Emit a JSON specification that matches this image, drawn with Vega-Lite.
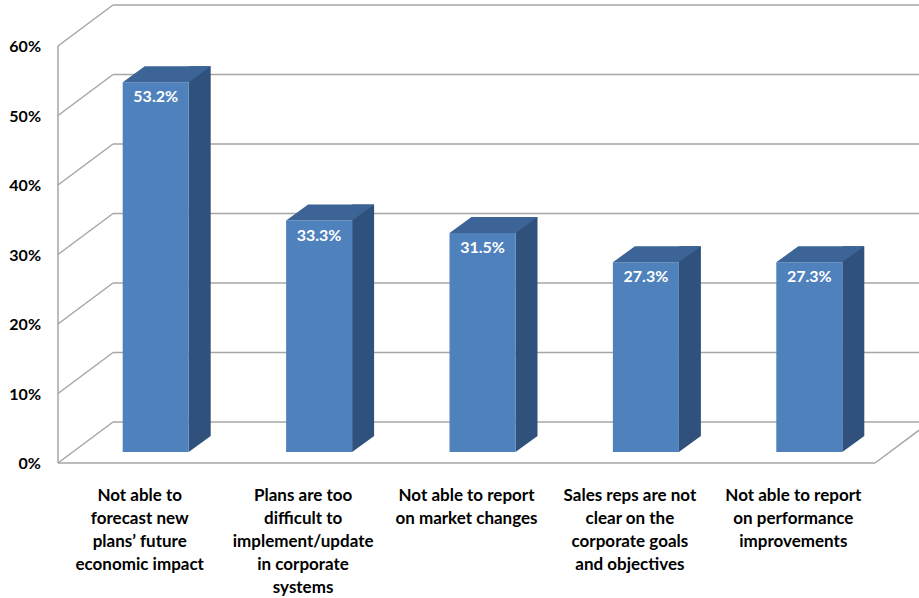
{
  "$schema": "https://vega.github.io/schema/vega-lite/v6.json",
  "width": 817,
  "height": 417,
  "autosize": {"type": "none"},
  "padding": {"left": 74, "top": 35, "right": 28, "bottom": 146},
  "background": "white",
  "config": {"view": {"stroke": null}, "font": "Lato", "axis": {"grid": false, "ticks": false, "domain": false}},
  "datasets": {
    "survey": [
      {"reason": "Not able to|forecast new|plans’ future|economic impact", "share": 0.532},
      {"reason": "Plans are too|difficult to|implement/update|in corporate|systems", "share": 0.333},
      {"reason": "Not able to report|on market changes", "share": 0.315},
      {"reason": "Sales reps are not|clear on the|corporate goals|and objectives", "share": 0.273},
      {"reason": "Not able to report|on performance|improvements", "share": 0.273}
    ],
    "grid": [
      {"level": 0}, {"level": 0.1}, {"level": 0.2}, {"level": 0.3}, {"level": 0.4}, {"level": 0.5}, {"level": 0.6}
    ]
  },
  "resolve": {"scale": {"x": "independent"}},
  "layer": [
    {
      "encoding": {
        "x": {"datum": 0, "type": "quantitative", "scale": {"domain": [0, 5], "nice": false, "zero": false}, "axis": null}
      },
      "layer": [
        {
          "data": {"name": "grid"},
          "mark": {"type": "rule", "stroke": "#a6a6a6", "strokeWidth": 1.5, "xOffset": 39, "x2Offset": 39, "yOffset": -30},
          "encoding": {
            "x2": {"datum": 5},
            "y": {"field": "level", "type": "quantitative", "scale": {"domain": [0, 0.6], "nice": false}, "axis": null}
          }
        },
        {
          "data": {"name": "grid"},
          "mark": {"type": "rule", "stroke": "#a6a6a6", "strokeWidth": 1.5, "xOffset": -16, "x2Offset": 39, "yOffset": 11, "y2Offset": -30},
          "encoding": {
            "x2": {"datum": 0},
            "y": {"field": "level", "type": "quantitative", "scale": {"domain": [0, 0.6], "nice": false}, "axis": null},
            "y2": {"field": "level"}
          }
        },
        {
          "data": {"name": "grid"},
          "mark": {"type": "text", "align": "right", "baseline": "middle", "xOffset": -33, "yOffset": 12, "fontSize": 16, "fontWeight": "bold", "color": "#000000"},
          "encoding": {
            "y": {"field": "level", "type": "quantitative", "scale": {"domain": [0, 0.6], "nice": false}, "axis": null},
            "text": {"field": "level", "type": "quantitative", "format": ".0%"}
          }
        },
        {
          "data": {"values": [{}]},
          "mark": {"type": "rule", "stroke": "#a6a6a6", "strokeWidth": 1.5, "xOffset": -16, "yOffset": 11, "y2Offset": 11},
          "encoding": {
            "y": {"datum": 0, "type": "quantitative", "axis": null},
            "y2": {"datum": 0.6}
          }
        },
        {
          "data": {"values": [{}]},
          "mark": {"type": "rule", "stroke": "#a6a6a6", "strokeWidth": 1.5, "xOffset": -16, "x2Offset": -16, "yOffset": 11},
          "encoding": {
            "x2": {"datum": 5},
            "y": {"datum": 0, "type": "quantitative", "axis": null}
          }
        },
        {
          "data": {"values": [{}]},
          "mark": {"type": "rule", "stroke": "#a6a6a6", "strokeWidth": 1.5, "xOffset": -16, "x2Offset": 39, "yOffset": 11, "y2Offset": -30},
          "encoding": {
            "x": {"datum": 5, "type": "quantitative", "scale": {"domain": [0, 5], "nice": false, "zero": false}, "axis": null},
            "x2": {"datum": 5},
            "y": {"datum": 0, "type": "quantitative", "axis": null},
            "y2": {"datum": 0}
          }
        }
      ]
    },
    {
      "data": {"name": "survey"},
      "encoding": {
        "x": {
          "field": "reason", "type": "nominal", "sort": null,
          "scale": {"paddingInner": 0.596, "paddingOuter": 0.298},
          "axis": {
            "title": null, "labelExpr": "split(datum.label, '|')", "labelAngle": 0, "labelOffset": -16,
            "labelPadding": 35, "labelFontSize": 17, "labelFontWeight": "bold", "labelColor": "#000000",
            "labelLineHeight": 23, "labelBaseline": "top", "labelLimit": 0, "labelOverlap": false,
            "ticks": false, "domain": false
          }
        },
        "y": {
          "field": "share", "type": "quantitative",
          "scale": {"domain": [0, 0.6], "nice": false},
          "axis": null
        }
      },
      "layer": [
        {
          "mark": {"type": "bar", "width": 22, "xOffset": 44, "yOffset": -16, "y2Offset": -16, "color": "#30517c"},
          "encoding": {"y2": {"datum": 0}}
        },
        {
          "mark": {"type": "point", "shape": "M33,0L33,-16L55,-16Z", "size": 4, "filled": true, "opacity": 1, "color": "#30517c", "strokeWidth": 0},
          "encoding": {"y": {"datum": 0, "type": "quantitative", "axis": null}}
        },
        {
          "mark": {"type": "bar", "color": "#4f81bd"}
        },
        {
          "mark": {"type": "point", "shape": "M-33,0L33,0L55,-16L-11,-16Z", "size": 4, "filled": true, "opacity": 1, "color": "#3c6497", "strokeWidth": 0}
        },
        {
          "mark": {"type": "text", "dy": 15, "color": "white", "fontSize": 16, "fontWeight": "bold", "baseline": "middle"},
          "encoding": {"text": {"field": "share", "type": "quantitative", "format": ".1%"}}
        }
      ]
    }
  ]
}
